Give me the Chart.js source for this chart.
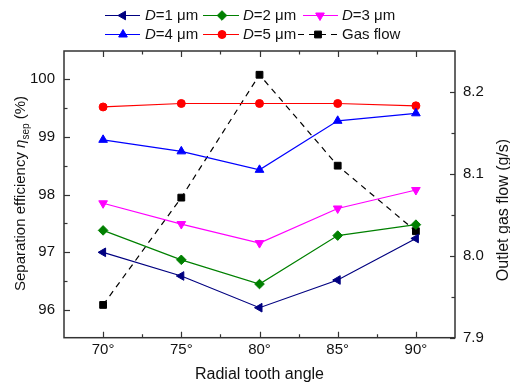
<!DOCTYPE html>
<html><head><meta charset="utf-8">
<script src="https://cdn.jsdelivr.net/npm/chart.js@4.4.1/dist/chart.umd.min.js"></script>
<style>html,body{margin:0;padding:0;background:#fff}canvas{display:block}</style>
</head><body>
<canvas id="c" width="510" height="385"></canvas>
<script>
// ---- data ----
const angles = [70, 75, 80, 85, 90];
const effD1 = [97.00, 96.59, 96.04, 96.52, 97.24];
const effD2 = [97.38, 96.87, 96.45, 97.29, 97.48];
const effD3 = [97.85, 97.49, 97.16, 97.76, 98.08];
const effD4 = [98.95, 98.75, 98.43, 99.28, 99.41];
const effD5 = [99.52, 99.58, 99.58, 99.58, 99.54];
const gasFlow = [7.940, 8.071, 8.221, 8.110, 8.030];
const xTicks = [70, 75, 80, 85, 90];
const xMinor = [72.5, 77.5, 82.5, 87.5];
const leftTicks = [96, 97, 98, 99, 100];
const leftMinor = [96.5, 97.5, 98.5, 99.5];
const rightTicks = [7.9, 8.0, 8.1, 8.2];
const rightMinor = [7.95, 8.05, 8.15];
const seriesLabels = ['1 μm', '2 μm', '3 μm', '4 μm', '5 μm', 'Gas flow'];

const FONT = '"Liberation Sans", Arial, Helvetica, sans-serif';
const AX = '#333';

const styles = [
  {color:'#000080', ps:'triangle', rot:-90, r:5},
  {color:'#008000', ps:'rectRot', rot:0, r:4.8},
  {color:'#FF00FF', ps:'triangle', rot:180, r:5},
  {color:'#0000FF', ps:'triangle', rot:0, r:5},
  {color:'#FF0000', ps:'circle', rot:0, r:4},
  {color:'#000000', ps:'rect', rot:0, r:4.8, dash:[6,5]}
];
const effSeries = [effD1, effD2, effD3, effD4, effD5];

const datasets = effSeries.map((arr, i) => ({
  label: 'D=' + seriesLabels[i],
  data: angles.map((a, k) => ({x: a, y: arr[k]})),
  yAxisID: 'y',
  borderColor: styles[i].color,
  backgroundColor: styles[i].color,
  borderWidth: 1.2,
  pointStyle: styles[i].ps,
  pointRotation: styles[i].rot,
  pointRadius: styles[i].r,
  pointBorderWidth: 1,
  tension: 0,
  order: 1
}));
datasets.push({
  label: seriesLabels[5],
  data: angles.map((a, k) => ({x: a, y: gasFlow[k]})),
  yAxisID: 'y2',
  borderColor: '#000',
  backgroundColor: '#000',
  borderWidth: 1.2,
  borderDash: styles[5].dash,
  pointStyle: 'rect',
  pointRadius: styles[5].r,
  pointBorderWidth: 1,
  tension: 0,
  order: 2
});

function marker(ctx, st, x, y) {
  const r = st.r;
  ctx.save();
  ctx.fillStyle = st.color; ctx.strokeStyle = st.color; ctx.lineWidth = 1;
  ctx.setLineDash([]);
  ctx.beginPath();
  if (st.ps === 'circle') {
    ctx.arc(x, y, r, 0, Math.PI * 2);
  } else if (st.ps === 'triangle') {
    let a = st.rot * Math.PI / 180;
    for (let k = 0; k < 3; k++) {
      const px = x + Math.sin(a) * r, py = y - Math.cos(a) * r;
      if (k === 0) ctx.moveTo(px, py); else ctx.lineTo(px, py);
      a += 2 * Math.PI / 3;
    }
    ctx.closePath();
  } else if (st.ps === 'rectRot') {
    ctx.moveTo(x, y - r); ctx.lineTo(x + r, y); ctx.lineTo(x, y + r); ctx.lineTo(x - r, y); ctx.closePath();
  } else {
    const s = r * Math.SQRT1_2;
    ctx.rect(x - s, y - s, 2 * s, 2 * s);
  }
  ctx.fill(); ctx.stroke();
  ctx.restore();
}

function tickGroup(ctx, vals, fn, len) { vals.forEach(v => fn(v, len)); }

const decor = {
  id: 'decor',
  afterDraw(chart) {
    const ctx = chart.ctx, a = chart.chartArea;
    const sx = chart.scales.x, sy = chart.scales.y, sy2 = chart.scales.y2;
    ctx.save();
    // frame
    ctx.strokeStyle = AX; ctx.lineWidth = 1.5;
    ctx.strokeRect(a.left, a.top, a.right - a.left, a.bottom - a.top);
    // ticks
    ctx.lineWidth = 1.2;
    const xt = (v, len) => {
      const p = Math.round(sx.getPixelForValue(v)) + 0.5;
      ctx.beginPath(); ctx.moveTo(p, a.bottom); ctx.lineTo(p, a.bottom - len);
      ctx.moveTo(p, a.top); ctx.lineTo(p, a.top + len); ctx.stroke();
    };
    const lt = (v, len) => {
      const p = Math.round(sy.getPixelForValue(v)) + 0.5;
      ctx.beginPath(); ctx.moveTo(a.left, p); ctx.lineTo(a.left + len, p); ctx.stroke();
    };
    const rt = (v, len) => {
      const p = Math.round(sy2.getPixelForValue(v)) + 0.5;
      ctx.beginPath(); ctx.moveTo(a.right, p); ctx.lineTo(a.right - len, p); ctx.stroke();
    };
    tickGroup(ctx, xTicks, xt, 6); tickGroup(ctx, xMinor, xt, 3.5);
    tickGroup(ctx, leftTicks, lt, 6); tickGroup(ctx, leftMinor, lt, 3.5);
    tickGroup(ctx, rightTicks, rt, 5); tickGroup(ctx, rightMinor, rt, 3.5);

    // axis titles
    ctx.fillStyle = '#111';
    ctx.textBaseline = 'middle'; ctx.textAlign = 'center';
    ctx.font = '16px ' + FONT;
    ctx.fillText('Radial tooth angle', (a.left + a.right) / 2, 375);

    // left title (rotated)
    ctx.save();
    ctx.translate(25, 193.5); ctx.rotate(-Math.PI / 2);
    ctx.textBaseline = 'alphabetic'; ctx.textAlign = 'left';
    const parts = [
      {t:'Separation efficiency ', f:'15px ' + FONT, dy:0},
      {t:'η', f:'italic 15px ' + FONT, dy:0},
      {t:'sep', f:'10px ' + FONT, dy:3.5},
      {t:' (%)', f:'15px ' + FONT, dy:0}
    ];
    let tot = 0;
    parts.forEach(p => { ctx.font = p.f; p.w = ctx.measureText(p.t).width; tot += p.w; });
    let cx = -tot / 2;
    parts.forEach(p => { ctx.font = p.f; ctx.fillText(p.t, cx, p.dy); cx += p.w; });
    ctx.restore();

    // right title
    ctx.save();
    ctx.translate(507.5, 210); ctx.rotate(-Math.PI / 2);
    ctx.textBaseline = 'alphabetic'; ctx.textAlign = 'center';
    ctx.font = '16px ' + FONT;
    ctx.fillText('Outlet gas flow (g/s)', 0, 0);
    ctx.restore();

    // legend
    const rows = [15.5, 34.5];
    const items = [
      {i:0, row:0, l0:105, l1:140, m:123, tx:145},
      {i:1, row:0, l0:203, l1:239, m:222, tx:243},
      {i:2, row:0, l0:303, l1:338, m:320, tx:342},
      {i:3, row:1, l0:105, l1:140, m:123, tx:145},
      {i:4, row:1, l0:203, l1:239, m:222, tx:243},
      {i:5, row:1, l0:298, l1:338, m:318, tx:342}
    ];
    items.forEach(it => {
      const st = styles[it.i], y = rows[it.row];
      ctx.save();
      ctx.strokeStyle = st.color; ctx.lineWidth = 1.2;
      ctx.setLineDash(st.dash || []);
      ctx.beginPath(); ctx.moveTo(it.l0, y); ctx.lineTo(it.l1, y); ctx.stroke();
      ctx.restore();
      marker(ctx, st, it.m, y);
      ctx.fillStyle = '#111'; ctx.textBaseline = 'middle'; ctx.textAlign = 'left';
      let x = it.tx;
      if (it.i < 5) {
        ctx.font = 'italic 15px ' + FONT;
        ctx.fillText('D', x, y); x += ctx.measureText('D').width;
        ctx.font = '15px ' + FONT;
        ctx.fillText('=' + seriesLabels[it.i], x, y);
      } else {
        ctx.font = '15px ' + FONT;
        ctx.fillText(seriesLabels[5], x, y);
      }
    });
    ctx.restore();
  }
};

const tickFont = {family: FONT, size: 15};
new Chart(document.getElementById('c'), {
  type: 'line',
  data: {datasets},
  options: {
    responsive: false,
    animation: false,
    devicePixelRatio: 1,
    layout: {padding: {top: 51, left: 0, right: 0, bottom: 0}},
    plugins: {legend: {display: false}, tooltip: {enabled: false}},
    scales: {
      x: {
        type: 'linear', position: 'bottom', min: 67.5, max: 92.5,
        afterBuildTicks: s => { s.ticks = xTicks.map(v => ({value: v})); },
        afterFit: s => { s.height = 47.3; },
        ticks: {font: tickFont, color: '#111', padding: 3, maxRotation: 0, autoSkip: false,
          callback: v => v + '°'},
        grid: {display: false, drawTicks: false},
        border: {display: false}
      },
      y: {
        type: 'linear', position: 'left', min: 95.52, max: 100.49,
        afterBuildTicks: s => { s.ticks = leftTicks.map(v => ({value: v})); },
        afterFit: s => { s.width = 64; },
        ticks: {font: tickFont, color: '#111', padding: 9, callback: v => String(v)},
        grid: {display: false, drawTicks: false},
        border: {display: false}
      },
      y2: {
        type: 'linear', position: 'right', min: 7.9, max: 8.25,
        afterBuildTicks: s => { s.ticks = rightTicks.map(v => ({value: v})); },
        afterFit: s => { s.width = 55; },
        ticks: {font: tickFont, color: '#111', padding: 8, callback: v => Number(v).toFixed(1)},
        grid: {display: false, drawTicks: false},
        border: {display: false}
      }
    }
  },
  plugins: [decor]
});
</script>
</body></html>
